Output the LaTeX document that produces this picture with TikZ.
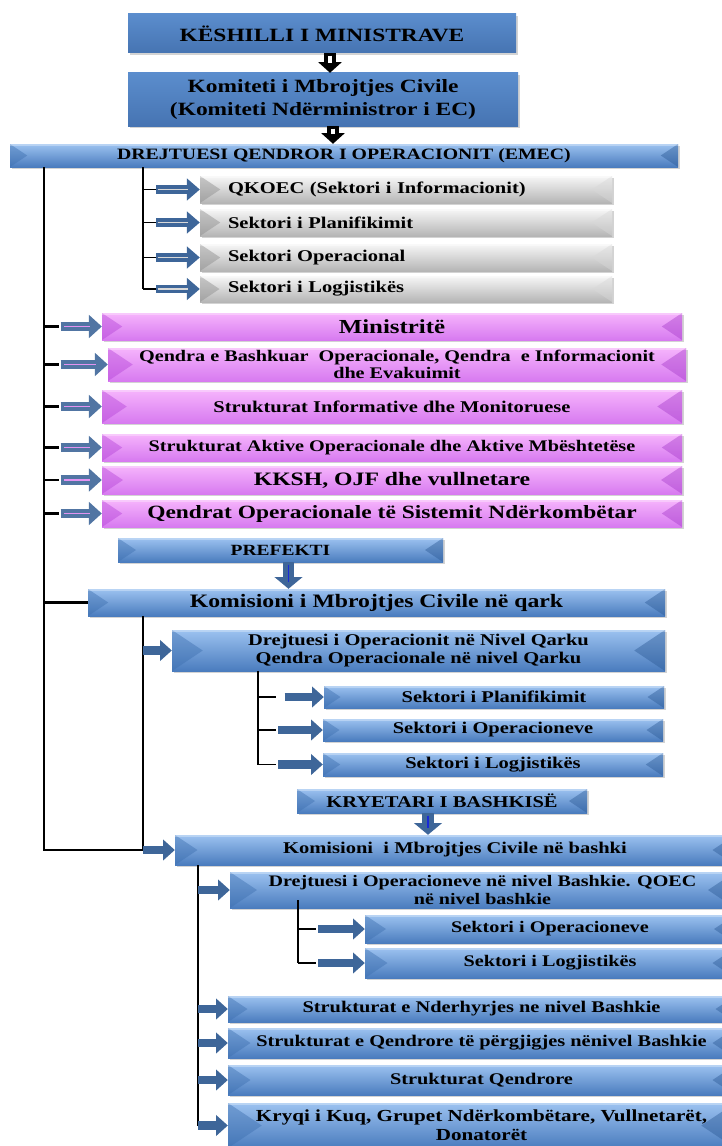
\documentclass[tikz,border=0pt]{standalone}
\usepackage{fontspec}
\setmainfont{Liberation Serif}[FakeStretch=1.25]
\usetikzlibrary{positioning, calc, shadows, arrows.meta}

\definecolor{bluehi}{HTML}{9CC2F0}
\definecolor{bluelo}{HTML}{4A7CBE}
\definecolor{bluel}{HTML}{3E70B0}
\definecolor{bluer}{HTML}{2E5C98}
\definecolor{greyhi}{HTML}{F7F7F7}
\definecolor{greylo}{HTML}{B5B5B5}
\definecolor{greyl}{HTML}{8C8C8C}
\definecolor{greyr}{HTML}{D8D8D8}
\definecolor{purphi}{HTML}{F6B4FC}
\definecolor{purplo}{HTML}{D77AF0}
\definecolor{purpl}{HTML}{B545D8}
\definecolor{purpr}{HTML}{A83FCC}
\definecolor{flathi}{HTML}{5B8DCD}
\definecolor{flatlo}{HTML}{4674B2}
\definecolor{arrblue}{HTML}{3E6699}
\newcommand{\bxf}[1]{\fontsize{#1}{#1}\selectfont\bfseries}

\begin{document}
\begin{tikzpicture}[bev/.style n args={4}{rectangle,align=center,inner sep=1pt,top color=#1,bottom color=#2,drop shadow={opacity=.35,shadow xshift=.07cm,shadow yshift=-.07cm},
  path picture={
   \fill[#3, opacity=.45] let \p1=(path picture bounding box.north west), \p2=(path picture bounding box.south east), \n1={0.75*(\y1-\y2)} in (\x1,\y1) -- (\x1,\y2) -- (\x1+\n1,{0.5*(\y1+\y2)}) -- cycle;
   \fill[#4, opacity=.45] let \p1=(path picture bounding box.north west), \p2=(path picture bounding box.south east), \n1={0.75*(\y1-\y2)} in (\x2,\y1) -- (\x2,\y2) -- (\x2-\n1,{0.5*(\y1+\y2)}) -- cycle;
   \fill[white, opacity=.3] (path picture bounding box.north west) rectangle ([yshift=-1.5pt]path picture bounding box.north east);}},
 blue/.style={bev={bluehi}{bluelo}{bluel}{bluer}},
 grey/.style={bev={greyhi}{greylo}{greyl}{greyr},text width=10.68cm,inner xsep=0.84cm,align=left},
 purp/.style={bev={purphi}{purplo}{purpl}{purpr}},
 flat/.style={rectangle,align=center,top color=flathi,bottom color=flatlo,drop shadow={opacity=.35,shadow xshift=.07cm,shadow yshift=-.07cm}},
 trunk/.style={-, black, line width=2pt},
 thin/.style={-, black, line width=1pt},
 garr/.style={-{Triangle[length=11pt,width=19pt,line width=0pt]}, line width=7pt, draw=arrblue, postaction={draw=greyr, line width=1.6pt, -, shorten >=10pt, shorten <=1pt}},
 parr/.style={-{Triangle[length=11pt,width=20pt,line width=0pt]}, line width=8pt, draw=arrblue!90!white, postaction={draw=purphi!70!purpl, line width=1.6pt, -, shorten >=10pt, shorten <=3pt}},
 barr/.style={-{Triangle[length=10pt,width=18pt,line width=0pt]}, line width=7pt, draw=arrblue},
 darr/.style={-{Triangle[length=10pt,width=24pt,line width=0pt]}, line width=10pt, draw=arrblue, postaction={draw=blue!60!arrblue, line width=1pt, -, shorten >=6pt, shorten <=2pt}},
 karr/.style={-{Triangle[length=9pt,width=20pt,line width=0pt]}, line width=10pt, draw=black, postaction={draw=white, line width=3pt, -, shorten >=8pt, shorten <=2pt}}]
\useasboundingbox (0,0) rectangle (21.66,-34.38);
\clip (0,0) rectangle (21.66,-34.38);
% national level
\node (kesh) [flat, minimum width=11.64cm, minimum height=1.17cm, font=\bxf{16}] at (9.66,-1.005) {KËSHILLI I MINISTRAVE};
\node (kom) [flat, minimum width=11.7cm, minimum height=1.59cm, font=\bxf{16}] at (9.69,-2.985) {Komiteti i Mbrojtjes Civile\\[3pt](Komiteti Ndërministror i EC)};
\node (drej) [blue, minimum width=20.04cm, minimum height=0.69cm, font=\bxf{13.5}] at (10.32,-4.665) {DREJTUESI QENDROR I OPERACIONIT (EMEC)};
\node (q1) [grey, minimum height=0.81cm, font=\bxf{14}] at (12.18,-5.685) {QKOEC (Sektori i Informacionit)};
\node (q2) [grey, minimum height=0.81cm, font=\bxf{14}] at (12.18,-6.675) {Sektori i Planifikimit};
\node (q3) [grey, minimum height=0.81cm, font=\bxf{14}] at (12.18,-7.725) {Sektori Operacional};
\node (q4) [grey, minimum height=0.78cm, font=\bxf{14}] at (12.18,-8.67) {Sektori i Logjistikës};
\node (p1) [purp, minimum width=17.4cm, minimum height=0.81cm, font=\bxf{17}] at (11.76,-9.795) {Ministritë};
\node (p2) [purp, minimum width=17.34cm, minimum height=0.99cm, font=\bxf{13.8}] at (11.91,-10.935) {Qendra e Bashkuar\ \ Operacionale, Qendra\ \ e Informacionit\\[1pt]dhe Evakuimit};
\node (p3) [purp, minimum width=17.4cm, minimum height=0.99cm, font=\bxf{14}] at (11.76,-12.195) {Strukturat Informative dhe Monitoruese};
\node (p4) [purp, minimum width=17.4cm, minimum height=0.81cm, font=\bxf{13.8}] at (11.76,-13.425) {Strukturat Aktive Operacionale dhe Aktive Mbështetëse};
\node (p5) [purp, minimum width=17.4cm, minimum height=0.84cm, font=\bxf{16.2}] at (11.76,-14.4) {KKSH, OJF dhe vullnetare};
\node (p6) [purp, minimum width=17.4cm, minimum height=0.81cm, font=\bxf{16}] at (11.76,-15.405) {Qendrat Operacionale të Sistemit Ndërkombëtar};
% qark level
\node (pref) [blue, minimum width=9.75cm, minimum height=0.72cm, font=\bxf{13.3}] at (8.415,-16.5) {PREFEKTI};
\node (qark) [blue, minimum width=17.31cm, minimum height=0.81cm, font=\bxf{16.2}] at (11.295,-18.075) {Komisioni i Mbrojtjes Civile në qark};
\node (drejq) [blue, minimum width=14.79cm, minimum height=1.23cm, font=\bxf{14}] at (12.555,-19.515) {Drejtuesi i Operacionit në Nivel Qarku\\[2pt]Qendra Operacionale në nivel Qarku};
\node (s1) [blue, minimum width=10.2cm, minimum height=0.66cm, font=\bxf{14}] at (14.82,-20.91) {Sektori i Planifikimit};
\node (s2) [blue, minimum width=10.2cm, minimum height=0.66cm, font=\bxf{14}] at (14.79,-21.9) {Sektori i Operacioneve};
\node (s3) [blue, minimum width=10.2cm, minimum height=0.69cm, font=\bxf{14}] at (14.79,-22.935) {Sektori i Logjistikës};
% bashki level
\node (kryet) [blue, minimum width=8.7cm, minimum height=0.72cm, font=\bxf{14}] at (13.26,-24.03) {KRYETARI I BASHKISË};
\node (bashki) [blue, minimum width=16.8cm, minimum height=0.9cm, font=\bxf{14}] at (13.65,-25.5) {Komisioni\ \ i Mbrojtjes Civile në bashki};
\node (drejb) [blue, minimum width=15.15cm, minimum height=1.08cm, font=\bxf{13.7}] at (14.475,-26.7) {Drejtuesi i Operacioneve në nivel Bashkie. QOEC\\[1pt]në nivel bashkie};
\node (b1) [blue, minimum width=11.1cm, minimum height=0.84cm, font=\bxf{13.8}] at (16.5,-27.87) {Sektori i Operacioneve};
\node (b2) [blue, minimum width=11.1cm, minimum height=0.9cm, font=\bxf{13.8}] at (16.5,-28.89) {Sektori i Logjistikës};
\node (l1) [blue, minimum width=15.21cm, minimum height=0.78cm, font=\bxf{13.9}] at (14.445,-30.27) {Strukturat e Nderhyrjes ne nivel Bashkie};
\node (l2) [blue, minimum width=15.21cm, minimum height=0.9cm, font=\bxf{13.9}] at (14.445,-31.29) {Strukturat e Qendrore të përgjigjes nënivel Bashkie};
\node (l3) [blue, minimum width=15.21cm, minimum height=0.9cm, font=\bxf{13.9}] at (14.445,-32.4) {Strukturat Qendrore};
\node (l4) [blue, minimum width=15.21cm, minimum height=1.35cm, font=\bxf{14.4}] at (14.445,-33.765) {Kryqi i Kuq, Grupet Ndërkombëtare, Vullnetarët,\\[2pt]Donatorët};
  \begin{scope}
    \coordinate (t0) at (1.32,-5.01);
    \coordinate (t1) at (4.29,-5.01);
    \coordinate (t2) at (4.29,-18.48);
    \coordinate (t3) at (7.74,-20.13);
    \coordinate (t4) at (5.94,-25.95);
    \coordinate (t5) at (8.94,-27.0);
    \draw [karr] ([xshift=2.4mm]kesh.south) -- ([xshift=2.4mm]kesh.south |- kom.north);
    \draw [karr] ([xshift=3mm]kom.south) -- ([xshift=3mm]kom.south |- drej.north);
    % main line
    \draw [trunk] (t0) |- (t2 |- bashki.west);
    \draw [trunk, line width=1.6pt] (t1) -- (t1 |- q4.west);
    \draw [trunk, line width=1.6pt] (t1 |- q1.west) -- ++(0.5,0);
    \draw [trunk, line width=1.6pt] (t1 |- q2.west) -- ++(0.5,0);
    \draw [trunk, line width=1.6pt] (t1 |- q3.west) -- ++(0.5,0);
    \draw [trunk, line width=1.6pt] (t1 |- q4.west) -- ++(0.5,0);
    \draw [garr] ($(t1 |- q1.west)+(0.4,0)$) -- (q1.west);
    \draw [garr] ($(t1 |- q2.west)+(0.4,0)$) -- (q2.west);
    \draw [garr] ($(t1 |- q3.west)+(0.4,0)$) -- (q3.west);
    \draw [garr] ($(t1 |- q4.west)+(0.4,0)$) -- (q4.west);
    \draw [trunk] (t0 |- p1.west) -- ++(0.45,0);
    \draw [trunk] (t0 |- p2.west) -- ++(0.45,0);
    \draw [trunk] (t0 |- p3.west) -- ++(0.45,0);
    \draw [trunk] (t0 |- p4.west) -- ++(0.45,0);
    \draw [trunk] (t0 |- p5.west) -- ++(0.45,0);
    \draw [trunk] (t0 |- p6.west) -- ++(0.45,0);
    \draw [parr] ($(t0 |- p1.west)+(0.5,0)$) -- (p1.west);
    \draw [parr] ($(t0 |- p2.west)+(0.5,0)$) -- (p2.west);
    \draw [parr] ($(t0 |- p3.west)+(0.5,0)$) -- (p3.west);
    \draw [parr] ($(t0 |- p4.west)+(0.5,0)$) -- (p4.west);
    \draw [parr] ($(t0 |- p5.west)+(0.5,0)$) -- (p5.west);
    \draw [parr] ($(t0 |- p6.west)+(0.5,0)$) -- (p6.west);
    % qark
    \draw [trunk] (t0 |- qark.west) -- (qark.west);
    \draw [darr] ([xshift=2.4mm]pref.south) -- ([xshift=2.4mm]pref.south |- qark.north);
    \draw [trunk, line width=1.4pt] (t2) -- (t2 |- bashki.west);
    \draw [barr] (t2 |- drejq.west) -- (drejq.west);
    \draw [thin] (t3) -- (t3 |- s3.west);
    \draw [thin] (t3 |- s1.west) -- ++(0.55,0);
    \draw [thin] (t3 |- s2.west) -- ++(0.55,0);
    \draw [thin] (t3 |- s3.west) -- ++(0.55,0);
    \draw [barr] ($(t3 |- s1.west)+(0.8,0)$) -- (s1.west);
    \draw [barr] ($(t3 |- s2.west)+(0.6,0)$) -- (s2.west);
    \draw [barr] ($(t3 |- s3.west)+(0.6,0)$) -- (s3.west);
    % bashki
    \draw [darr] ([xshift=-4.2mm]kryet.south) -- ([xshift=-4.2mm]kryet.south |- bashki.north);
    \draw [barr] (t2 |- bashki.west) -- (bashki.west);
    \draw [thin] (t4) -- (t4 |- l4.west);
    \draw [barr] (t4 |- drejb.west) -- (drejb.west);
    \draw [barr] (t4 |- l1.west) -- (l1.west);
    \draw [barr] (t4 |- l2.west) -- (l2.west);
    \draw [barr] (t4 |- l3.west) -- (l3.west);
    \draw [barr] (t4 |- l4.west) -- (l4.west);
    \draw [thin] (t5) -- (t5 |- b2.west);
    \draw [thin] (t5 |- b1.west) -- ++(0.55,0);
    \draw [thin] (t5 |- b2.west) -- ++(0.55,0);
    \draw [barr] ($(t5 |- b1.west)+(0.6,0)$) -- (b1.west);
    \draw [barr] ($(t5 |- b2.west)+(0.6,0)$) -- (b2.west);
  \end{scope}
\end{tikzpicture}
\end{document}
